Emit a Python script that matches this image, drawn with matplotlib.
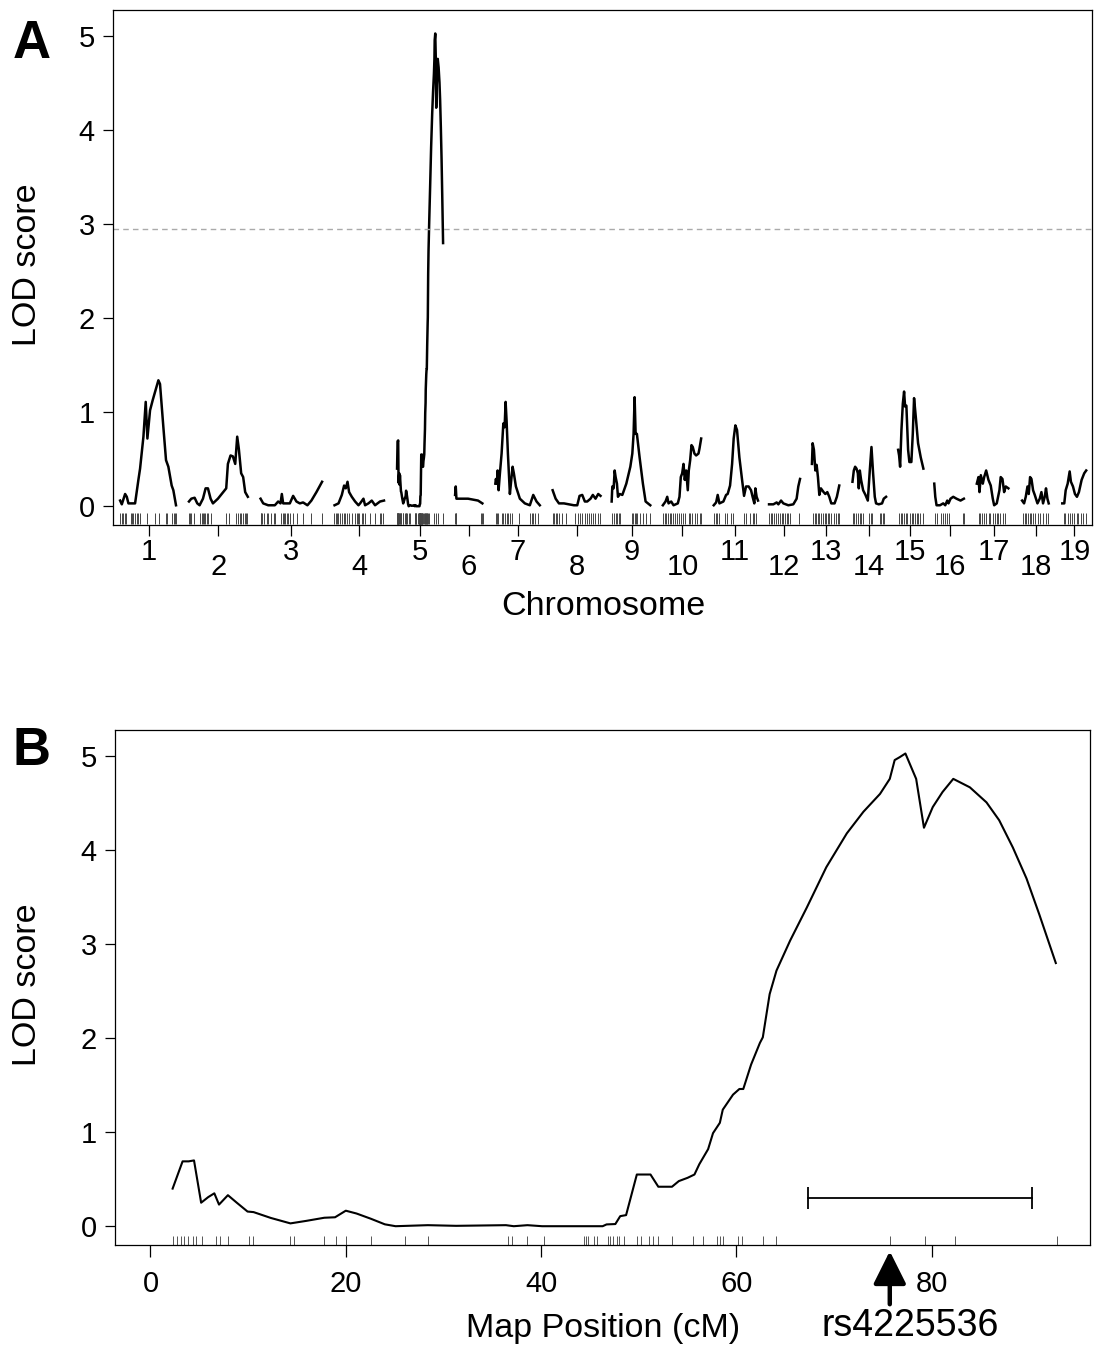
import numpy as np
import matplotlib
matplotlib.use("Agg")
import matplotlib.pyplot as plt

plt.rcParams['font.family'] = ['Liberation Sans', 'DejaVu Sans']

# ---- panel B: fine map of chromosome 5 (cM, LOD) ----
fine_pos = [2.27, 3.29, 3.91, 4.46, 5.19, 5.92, 6.54, 7.02, 7.93, 8.84, 9.94, 10.56,
            12.32, 14.33, 15.97, 17.8, 18.9, 20.0, 21.1, 22.55, 24.0, 25.1, 28.4,
            31.3, 36.4, 37.2, 38.6, 40.1, 46.3, 46.7, 47.6, 48.1, 48.7, 49.8, 51.2,
            52.0, 53.4, 54.1, 55.0, 55.7, 56.2, 57.1, 57.6, 58.3, 58.6, 59.65, 60.3,
            60.7, 61.5, 62.4, 62.7, 63.4, 64.1, 65.5, 67.2, 69.2, 71.3, 73.0, 74.7,
            75.7, 76.2, 76.7, 77.3, 78.4, 79.2, 80.1, 81.1, 82.2, 83.9, 85.6, 86.9,
            88.3, 89.7, 91.0, 92.7]
fine_lod = [0.40, 0.69, 0.69, 0.70, 0.25, 0.31, 0.35, 0.23, 0.33, 0.25, 0.156, 0.15,
            0.088, 0.03, 0.057, 0.09, 0.095, 0.165, 0.135, 0.08, 0.02, 0.0, 0.011,
            0.004, 0.011, 0.0, 0.011, 0.0, 0.0, 0.019, 0.023, 0.107, 0.118, 0.55, 0.55,
            0.42, 0.42, 0.48, 0.515, 0.55, 0.66, 0.82, 0.99, 1.10, 1.24, 1.40, 1.46,
            1.46, 1.72, 1.95, 2.01, 2.47, 2.72, 3.04, 3.39, 3.82, 4.18, 4.41, 4.60,
            4.76, 4.96, 4.99, 5.03, 4.76, 4.24, 4.46, 4.62, 4.76, 4.67, 4.51, 4.32,
            4.03, 3.70, 3.32, 2.80]
fine_markers = [2.27, 2.74, 3.11, 3.47, 3.84, 4.35, 4.71, 5.30, 6.76, 7.13, 7.93, 10.05,
                10.49, 14.33, 14.69, 17.73, 18.97, 20.07, 22.63, 26.02, 28.4, 36.6, 37.0,
                38.6, 40.3, 44.35, 44.56, 44.8, 45.4, 45.7, 46.8, 47.1, 47.4, 47.8, 48.0,
                48.5, 49.8, 50.2, 51.0, 51.5, 52.0, 53.4, 55.6, 56.6, 58.0, 58.3, 58.6,
                60.2, 60.6, 62.7, 64.1, 75.7, 79.3, 82.4, 92.8]
ci_lo, ci_hi, ci_lod = 67.3, 90.3, 0.30
peak_marker = 75.7
peak_name = "rs4225536"
threshold = 2.95

# ---- panel A: genome scan, one row per chromosome ----
chrom_names = [str(i) for i in range(1, 20)]
chrom_len = [112, 118, 124, 100, 93, 57, 92, 94, 78, 78, 86, 63, 57, 67, 51, 61, 67, 57, 49]
gap = 22

scan_pos = [
    [0, 3.3, 9.8, 13.1, 16.3, 29.4, 35.9, 39.2, 45.8, 50.3, 53.6, 58.8, 64.1, 75.2, 78.4, 85, 90.2, 94.8, 101.3, 104.6, 109.8],
    [1.3, 5.9, 12.4, 17.6, 22.2, 28.8, 34, 38.6, 43.8, 48.4, 58.2, 74.5, 77.8, 83, 87.6, 92.2, 96.1, 99.3, 103.9, 107.8, 111.8, 117],
    [2, 7.2, 17, 30.1, 36.6, 41.2, 43.8, 46.4, 52.9, 59.5, 66, 72.5, 79.1, 85.6, 94.1, 101.9, 111.8, 122.9],
    [1.4, 9.2, 15.7, 20.2, 23.5, 26.9, 30, 35.3, 41.8, 48.4, 51.6, 58.2, 61.4, 68, 74.5, 81, 90.8, 98.6],
    fine_pos,
    [1.3, 2.6, 3.9, 10.5, 17, 26.8, 36.6, 46.4, 54.9],
    [1.4, 2.5, 4.5, 5.9, 7.8, 10.4, 13.7, 17.1, 19.6, 21.6, 23.5, 26.1, 30, 32.7, 35.3, 37.8, 41.8, 49.6, 59.4, 69.2, 75.9, 82.4, 88.8],
    [0, 5.9, 12.4, 22.2, 32, 41.8, 48.4, 52.9, 58.2, 63.3, 68, 74.5, 79, 84.3, 89.6, 94.1],
    [0, 1.3, 3.9, 5.9, 7.8, 10.4, 12.4, 15.7, 21, 28.8, 36.7, 40.6, 43.1, 45.1, 47.1, 49.6, 54.9, 61.4, 66.7, 75.9],
    [0.6, 5.9, 9.2, 11.8, 17, 21.6, 30, 33.3, 35.9, 38.6, 41.2, 43.7, 46.4, 49.6, 51.6, 54.3, 56.9, 59.4, 62.7, 66, 70.6, 72.5, 75.9],
    [0.6, 5.3, 8.4, 11.8, 19.6, 24.9, 28, 32.7, 36.7, 39.8, 43.1, 46.4, 51, 56.3, 60.2, 64.1, 69.2, 73.9, 77, 80.4, 82.4, 84.9, 87.6],
    [1.3, 9.8, 16.3, 19.6, 24.9, 29.4, 39.2, 49, 55.5, 58.8, 62.2],
    [0.6, 2, 4.5, 7.3, 9.8, 12.4, 15.1, 18.2, 23.5, 26.9, 30.8, 34.7, 38.6, 45.1, 49.6, 54.3],
    [1.3, 3.9, 6.5, 9.2, 11.8, 13.7, 15.7, 18.2, 22.2, 26.8, 31.4, 35.3, 38.6, 41.8, 45.1, 47.6, 52.9, 59.4, 62.7, 67.3],
    [2, 3.9, 5.9, 8.5, 11.2, 13.7, 15.7, 18.2, 21.6, 24.1, 28, 30.8, 33.3, 36.7, 41.2, 46.4, 51.6],
    [0, 2, 4.5, 11.2, 17.6, 21.6, 25.5, 28, 32, 37.3, 43.7, 51.6, 58.2],
    [0.6, 3.9, 5.9, 8.5, 12.4, 15.1, 19, 23.5, 28, 32, 34.7, 39.8, 45.1, 47.6, 51, 54.3, 57.5, 62.7],
    [0.6, 4.5, 7.8, 11.2, 13.7, 16.3, 19, 22.2, 25.5, 30.8, 35.3, 38.6, 41.8, 45.1, 47.6, 50.4, 52.9],
    [0.6, 4.5, 7.3, 11.2, 15.1, 17.6, 21.6, 25.5, 29.4, 33.3, 38.6, 43.7, 47.6],
]
scan_lod = [
    [0.06, 0.02, 0.13, 0.10, 0.03, 0.03, 0.28, 0.40, 0.74, 1.11, 0.72, 1.02, 1.13, 1.34, 1.30, 0.84, 0.49, 0.42, 0.22, 0.17, 0.01],
    [0.05, 0.08, 0.09, 0.03, 0.01, 0.08, 0.19, 0.19, 0.08, 0.03, 0.08, 0.19, 0.45, 0.54, 0.53, 0.45, 0.74, 0.61, 0.35, 0.31, 0.15, 0.10],
    [0.08, 0.03, 0.01, 0.01, 0.05, 0.03, 0.13, 0.03, 0.03, 0.03, 0.11, 0.05, 0.03, 0.04, 0.01, 0.06, 0.15, 0.26],
    [0.01, 0.03, 0.12, 0.22, 0.19, 0.26, 0.15, 0.10, 0.05, 0.01, 0.03, 0.08, 0.01, 0.03, 0.06, 0.01, 0.05, 0.06],
    fine_lod,
    [0.12, 0.21, 0.08, 0.08, 0.08, 0.08, 0.07, 0.06, 0.03],
    [0.24, 0.29, 0.24, 0.38, 0.17, 0.35, 0.56, 0.88, 0.84, 1.11, 0.91, 0.56, 0.13, 0.28, 0.42, 0.35, 0.21, 0.08, 0.03, 0.01, 0.12, 0.05, 0.01],
    [0.17, 0.08, 0.03, 0.03, 0.02, 0.01, 0.01, 0.11, 0.12, 0.05, 0.05, 0.08, 0.12, 0.08, 0.13, 0.11],
    [0.05, 0.21, 0.19, 0.38, 0.31, 0.24, 0.10, 0.13, 0.12, 0.24, 0.42, 0.56, 0.77, 1.16, 0.77, 0.77, 0.52, 0.24, 0.05, 0.01],
    [0.01, 0.05, 0.10, 0.03, 0.05, 0.01, 0.03, 0.10, 0.31, 0.35, 0.45, 0.28, 0.38, 0.17, 0.38, 0.49, 0.65, 0.63, 0.56, 0.54, 0.56, 0.61, 0.72],
    [0.01, 0.04, 0.12, 0.03, 0.05, 0.12, 0.13, 0.22, 0.45, 0.72, 0.86, 0.81, 0.52, 0.28, 0.11, 0.21, 0.21, 0.17, 0.10, 0.03, 0.19, 0.10, 0.06],
    [0.02, 0.02, 0.04, 0.02, 0.06, 0.03, 0.01, 0.02, 0.08, 0.21, 0.29],
    [0.45, 0.67, 0.60, 0.38, 0.44, 0.31, 0.12, 0.19, 0.15, 0.13, 0.15, 0.10, 0.03, 0.03, 0.10, 0.22],
    [0.26, 0.38, 0.42, 0.40, 0.35, 0.19, 0.38, 0.28, 0.17, 0.12, 0.06, 0.38, 0.63, 0.35, 0.10, 0.03, 0.02, 0.03, 0.08, 0.10],
    [0.60, 0.54, 0.42, 0.81, 1.09, 1.22, 1.06, 1.07, 0.60, 0.47, 0.47, 0.77, 1.15, 0.95, 0.67, 0.52, 0.40],
    [0.24, 0.10, 0.01, 0.01, 0.03, 0.01, 0.06, 0.03, 0.08, 0.10, 0.08, 0.06, 0.08],
    [0.24, 0.31, 0.15, 0.33, 0.24, 0.31, 0.38, 0.28, 0.22, 0.08, 0.01, 0.03, 0.17, 0.31, 0.29, 0.15, 0.21, 0.19],
    [0.06, 0.03, 0.10, 0.21, 0.13, 0.31, 0.29, 0.17, 0.12, 0.03, 0.08, 0.15, 0.03, 0.10, 0.19, 0.08, 0.03],
    [0.03, 0.03, 0.17, 0.24, 0.37, 0.26, 0.21, 0.13, 0.10, 0.15, 0.28, 0.35, 0.38],
]
marker_pos = [
    [0, 3, 6, 10, 12, 21, 24, 26, 29, 33, 36, 39, 52, 69, 77, 90, 93, 101, 105, 108, 110],
    [1, 3, 6, 12, 22, 26, 29, 31, 33, 36, 39, 45, 74, 79, 94, 97, 101, 104, 107, 111, 114, 116],
    [2, 3, 5, 9, 14, 17, 22, 29, 31, 43, 46, 48, 51, 54, 56, 60, 66, 73, 86, 102, 122],
    [1, 4, 7, 9, 12, 16, 19, 22, 26, 30, 35, 41, 45, 48, 50, 55, 58, 61, 71, 81, 90, 92, 97],
    fine_markers,
    [1, 3, 4, 53, 55, 57],
    [3, 5, 7, 14, 17, 20, 24, 27, 31, 35, 47, 69, 73, 76, 79, 86],
    [1, 3, 6, 9, 12, 18, 27, 44, 50, 53, 58, 63, 68, 71, 75, 79, 84, 90, 94],
    [1, 4, 8, 10, 14, 17, 39, 42, 45, 47, 50, 55, 61, 68, 75],
    [1, 4, 7, 10, 14, 17, 20, 24, 28, 32, 37, 40, 45, 52, 54, 58, 63, 67, 73, 76],
    [2, 5, 8, 10, 22, 26, 35, 38, 61, 64, 71, 77, 80, 84],
    [1, 5, 8, 12, 15, 18, 23, 26, 29, 33, 36, 39, 43, 60],
    [2, 6, 8, 12, 15, 19, 22, 26, 28, 32, 35, 39, 43, 48, 52, 54],
    [3, 5, 9, 12, 16, 18, 22, 33, 37, 40, 55, 58, 61, 64],
    [4, 7, 10, 14, 17, 20, 26, 29, 32, 35, 39, 42, 45, 50],
    [1, 5, 14, 18, 21, 26, 29, 56, 58],
    [4, 7, 10, 14, 19, 24, 27, 32, 37, 40, 43, 47, 52, 56],
    [3, 6, 9, 12, 16, 19, 22, 26, 31, 35, 42, 48, 52],
    [3, 6, 11, 16, 20, 24, 29, 32, 37, 42, 47],
]

W, H = 1096, 1345
fig = plt.figure(figsize=(W / 100, H / 100), dpi=100)


def frac(left, top, right, bottom):
    return [left / W, 1 - bottom / H, (right - left) / W, (bottom - top) / H]


ax_a = fig.add_axes(frac(113, 10, 1092, 525))
ax_b = fig.add_axes(frac(115, 730, 1090, 1245))

# panel A
starts = np.cumsum([0] + [l + gap for l in chrom_len[:-1]])
for i in range(len(chrom_len)):
    ax_a.plot(starts[i] + np.array(scan_pos[i]), scan_lod[i], color='black', lw=1.8)
    ax_a.vlines(starts[i] + np.array(marker_pos[i]), -0.185, -0.07, color='#444444', lw=0.7)
ax_a.axhline(threshold, color='#aaaaaa', lw=1.0, dashes=(4, 3))
mids = starts + np.array(chrom_len) / 2
ax_a.set_xticks(mids[::2], chrom_names[::2])
ax_a.set_xticks(mids[1::2], chrom_names[1::2], minor=True)
ax_a.set_xlim(-14, starts[-1] + chrom_len[-1] + 10)
ax_a.tick_params(axis='x', which='major', pad=1.5)
ax_a.tick_params(axis='x', which='minor', pad=12)
ax_a.tick_params(axis='x', which='both', length=8, width=0.9, labelsize=21)

# panel B
ax_b.plot(fine_pos, fine_lod, color='black', lw=1.5)
ax_b.vlines(fine_markers, -0.2, -0.105, color='#555555', lw=0.7)
ax_b.plot([ci_lo, ci_hi], [ci_lod, ci_lod], color='black', lw=1.3)
ax_b.vlines([ci_lo, ci_hi], ci_lod - 0.12, ci_lod + 0.12, color='black', lw=1.3)
ax_b.set_xticks([0, 20, 40, 60, 80])
ax_b.set_xlim(-3.63, 96.2)
ax_b.tick_params(axis='x', length=8.6, width=0.9, pad=9.4, labelsize=21)
ax_b.annotate('', xy=(peak_marker, -0.012), xycoords=('data', 'axes fraction'),
              xytext=(peak_marker, -0.115), textcoords=('data', 'axes fraction'),
              arrowprops=dict(arrowstyle='-|>,head_length=1.0,head_width=0.5',
                              mutation_scale=20, lw=3.2, color='black',
                              shrinkA=0, shrinkB=0),
              annotation_clip=False)
ax_b.annotate(peak_name, xy=(peak_marker, -0.157), xycoords=('data', 'axes fraction'),
              xytext=(15, 0), textcoords='offset points', ha='center', va='center',
              fontsize=27, annotation_clip=False)

for ax in (ax_a, ax_b):
    ax.set_ylim(-0.2, 5.28)
    ax.set_yticks(range(6))
    ax.tick_params(axis='y', length=7.2, width=0.9, pad=5.8, labelsize=21)
    for s in ax.spines.values():
        s.set_linewidth(0.9)

# axis titles and panel letters
fig.text(28 / W, 1 - 265 / H, 'LOD score', rotation=90, ha='center', va='center', fontsize=24.5)
fig.text(28 / W, 1 - 985 / H, 'LOD score', rotation=90, ha='center', va='center', fontsize=24.5)
fig.text(603 / W, 1 - 615 / H, 'Chromosome', ha='center', va='baseline', fontsize=24.5)
fig.text(603 / W, 1 - 1337 / H, 'Map Position (cM)', ha='center', va='baseline', fontsize=24.5)
fig.text(32 / W, 1 - 58 / H, 'A', ha='center', va='baseline', fontsize=38, fontweight='bold')
fig.text(32 / W, 1 - 765 / H, 'B', ha='center', va='baseline', fontsize=38, fontweight='bold')

fig.savefig('out.png', dpi=100)
